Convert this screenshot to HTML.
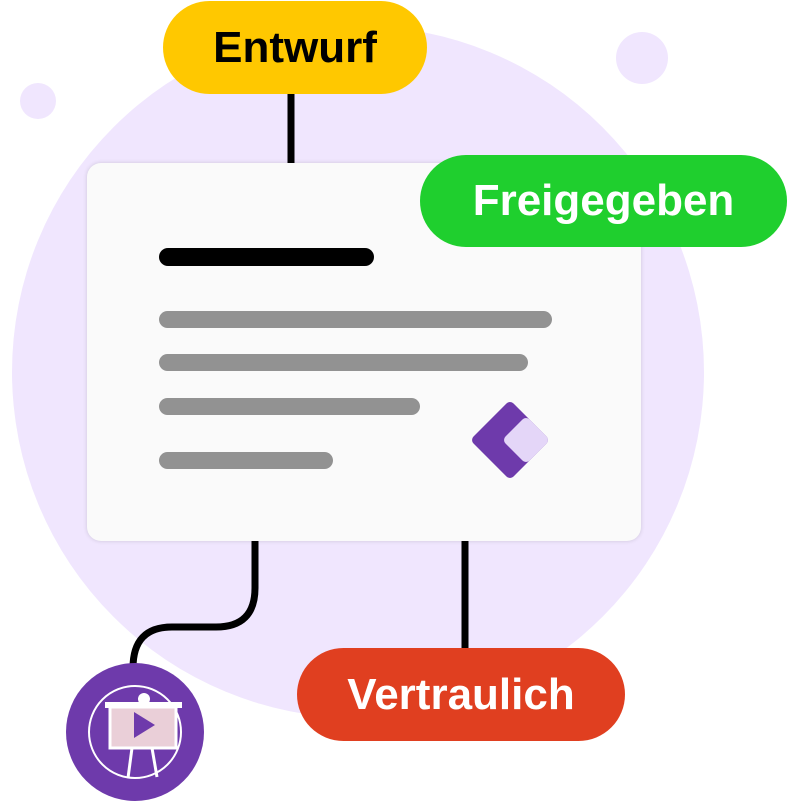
<!DOCTYPE html>
<html><head><meta charset="utf-8"><style>
html,body{margin:0;padding:0;background:#fff;}
body{width:787px;height:802px;position:relative;overflow:hidden;font-family:"Liberation Sans",sans-serif;}
.abs{position:absolute;}
.pill{position:absolute;border-radius:47px;display:flex;align-items:center;justify-content:center;font-weight:bold;font-size:44px;}
.bar{position:absolute;height:17px;border-radius:9px;background:#929292;left:159px;}
</style></head><body>
<svg class="abs" style="left:0;top:0" width="787" height="802">
<circle cx="358" cy="372" r="346" fill="#f0e6fe"/>
<circle cx="38" cy="101" r="18" fill="#f0e6fe"/>
<circle cx="642" cy="58" r="26" fill="#f0e6fe"/>
<line x1="291" y1="90" x2="291" y2="170" stroke="#000" stroke-width="7"/>
<line x1="465" y1="535" x2="465" y2="652" stroke="#000" stroke-width="7"/>
<path d="M255 535 V588 Q255 627 216 627 H172 Q133 627 133 668" fill="none" stroke="#000" stroke-width="7"/>
</svg>
<div class="abs" style="left:87px;top:163px;width:554px;height:378px;background:#fafafa;border-radius:14px;box-shadow:0 0 4px rgba(0,0,0,0.15);"></div>
<div class="abs" style="left:159px;top:248px;width:215px;height:18px;border-radius:9px;background:#000;"></div>
<div class="bar" style="top:311px;width:393px"></div>
<div class="bar" style="top:354px;width:369px"></div>
<div class="bar" style="top:398px;width:261px"></div>
<div class="bar" style="top:452px;width:174px"></div>
<svg class="abs" style="left:0;top:0" width="787" height="802">
<rect x="481.7" y="411.7" width="56.6" height="56.6" rx="5" fill="#6e3aab" transform="rotate(45 510 440)"/>
<rect x="509" y="423" width="34" height="34" rx="5" fill="#e4d6f8" transform="rotate(45 526 440)"/>
</svg>
<div class="pill" style="left:163px;top:1px;width:264px;height:93px;background:#ffc800;color:#000;">Entwurf</div>
<div class="pill" style="left:420px;top:155px;width:367px;height:92px;background:#1fcf2e;color:#fff;">Freigegeben</div>
<div class="pill" style="left:297px;top:648px;width:328px;height:93px;background:#e03f20;color:#fff;">Vertraulich</div>
<svg class="abs" style="left:0;top:0" width="787" height="802">
<circle cx="135" cy="732" r="69" fill="#6e3aab"/>
<circle cx="135" cy="732" r="46" fill="none" stroke="#fff" stroke-width="2"/>
<circle cx="144" cy="699" r="6" fill="#fff"/>
<line x1="132" y1="748" x2="128" y2="778" stroke="#fff" stroke-width="3"/>
<line x1="152" y1="748" x2="157" y2="777" stroke="#fff" stroke-width="3"/>
<rect x="105" y="702" width="77" height="6" fill="#fff"/>
<rect x="110" y="707" width="66" height="41" fill="#eacfd8" stroke="#fff" stroke-width="3"/>
<polygon points="134,712 134,738 155,725" fill="#6e3aab"/>
</svg>
</body></html>
